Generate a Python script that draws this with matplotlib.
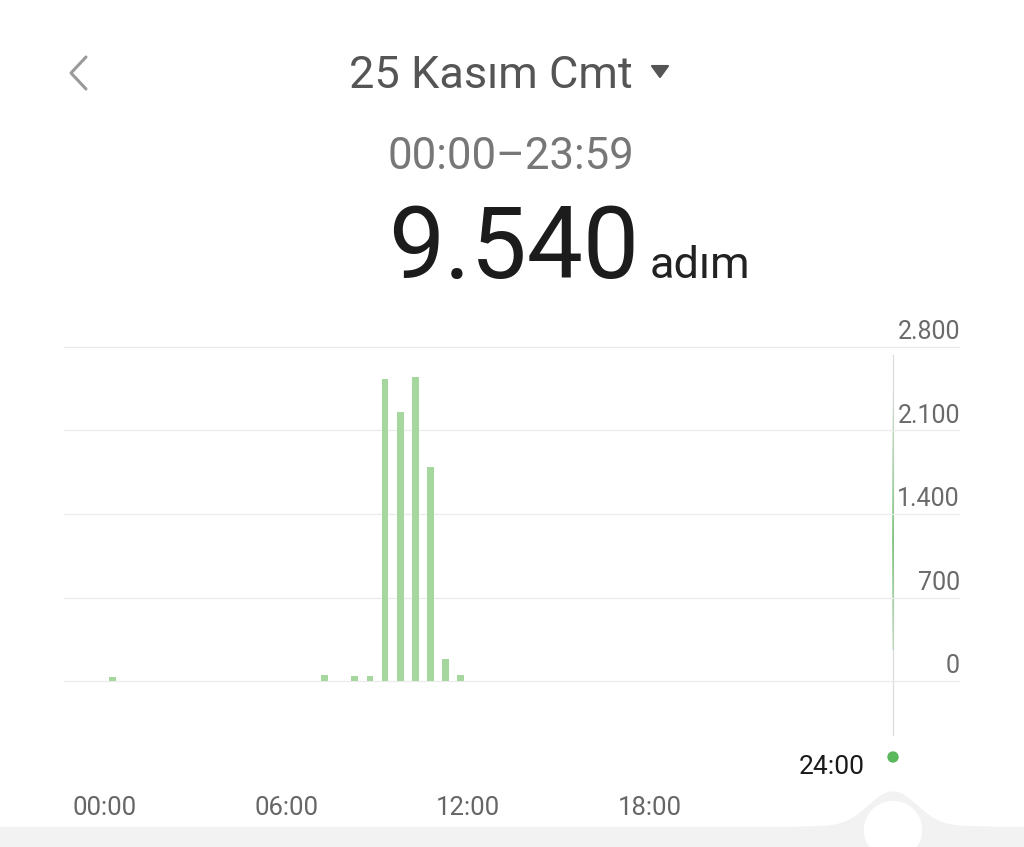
import numpy as np
import matplotlib
matplotlib.use("Agg")
import matplotlib.pyplot as plt
from matplotlib.patches import Polygon, Circle, Rectangle
from matplotlib.collections import LineCollection
from matplotlib.transforms import blended_transform_factory

plt.rcParams['font.family'] = ['Roboto', 'DejaVu Sans']

# ---- datos (pasos por intervalo de 30 min) ----
saat = [0.25, 7.25, 8.25, 8.75, 9.25, 9.75, 10.25, 10.75, 11.25, 11.75]
adim = [35, 50, 45, 40, 2535, 2255, 2552, 1797, 182, 49]
y_ticks = [0, 700, 1400, 2100, 2800]
y_labels = ["0", "700", "1.400", "2.100", "2.800"]
x_ticks = [0, 6, 12, 18]
x_labels = ["00:00", "06:00", "12:00", "18:00"]
baslik = "25 Kasım Cmt"
aralik = "00:00\u201323:59"
toplam = "9.540"
birim = "adım"

W, H = 1024, 847
fig = plt.figure(figsize=(W / 100, H / 100), dpi=100)
fig.patch.set_facecolor("white")

# capa de decoracion en pixeles
bg = fig.add_axes([0, 0, 1, 1], zorder=0)
bg.set_xlim(0, W)
bg.set_ylim(H, 0)
bg.axis("off")

# ---- grafico principal ----
px_top, px_bot = 340, 745
px_left, px_right = 64, 960
ax = fig.add_axes([px_left / W, 1 - px_bot / H, (px_right - px_left) / W, (px_bot - px_top) / H],
                  zorder=1)
ax.set_facecolor("none")
# escalas: 0 -> y=681 px, 700 por 83.5 px ; 00:00 -> x=105 px, 30.28 px por hora
u_per_px = 700 / 83.5
ax.set_ylim(-(px_bot - 681) * u_per_px, (681 - px_top) * u_per_px)
h_per_px = 1 / 30.28
ax.set_xlim((px_left - 105) * h_per_px, (px_right - 105) * h_per_px)

for t in y_ticks:
    ax.axhline(t, color="#ebebeb", lw=0.9, zorder=0)
for t, lab in zip(y_ticks, y_labels):
    ax.annotate(lab, xy=(1, t), xycoords=("axes fraction", "data"),
                xytext=(0, 10.5), textcoords="offset points",
                ha="right", va="center", fontsize=18, color="#6a6a6a")

ax.bar(saat, adim, width=0.22, color="#a5d79e", zorder=2)

ax.set_xticks(x_ticks)
ax.set_xticklabels(x_labels, fontsize=18.5, color="#666666")
ax.tick_params(axis="x", length=0, pad=37)
ax.set_yticks([])
for s in ax.spines.values():
    s.set_visible(False)

# etiqueta 24:00
tr = blended_transform_factory(ax.transData, bg.transData)
ax.text(24, 767, "24:00", transform=tr, ha="center", va="center",
        fontsize=19, color="#1a1a1a", clip_on=False)

# cursor vertical
cx = 893
bg.plot([cx, cx], [355, 735], color="#dcdcdc", lw=0.9, zorder=1)
ys = np.linspace(385, 650, 60)
segs = [[(cx, ys[i]), (cx, ys[i + 1])] for i in range(len(ys) - 1)]
mid = (ys[:-1] + ys[1:]) / 2
alph = np.clip(1 - np.abs(mid - 540) / 150, 0, 1) * 0.9
cols = [(0.36, 0.72, 0.36, a) for a in alph]
bg.add_collection(LineCollection(segs, colors=cols, linewidths=1.1, zorder=2))
bg.add_patch(Circle((cx, 757), 5, color="#5cb85c", zorder=3))

# barra inferior con joroba
bg.add_patch(Rectangle((0, 827), W, H - 827, color="#f2f2f2", zorder=1))
xs = np.linspace(800, 990, 120)
hump = 827 - 35 * np.exp(-((xs - cx) / 34) ** 2)
poly = np.vstack([np.column_stack([xs, hump]), [[990, 848], [800, 848]]])
bg.add_patch(Polygon(poly, closed=True, color="#f2f2f2", zorder=1))
bg.add_patch(Circle((cx, 830), 28.5, color="white", zorder=2))

# ---- cabecera ----
bg.plot([86, 71, 86], [57, 73, 89], color="#9a9a9a", lw=2.2,
        solid_capstyle="round", solid_joinstyle="round")
bg.text(491, 76, baslik, ha="center", va="center", fontsize=32.5, color="#555555")
bg.add_patch(Polygon([[652, 66], [668, 66], [660, 77]], closed=True,
                     color="#555555", joinstyle="round", lw=1.5))
bg.text(511, 157, aralik, ha="center", va="center", fontsize=31.5, color="#777777")
bg.text(388, 278, toplam, ha="left", va="baseline", fontsize=72, color="#1c1c1c")
bg.text(650, 278, birim, ha="left", va="baseline", fontsize=32.5, color="#222222")

fig.savefig("out.png", dpi=100)
